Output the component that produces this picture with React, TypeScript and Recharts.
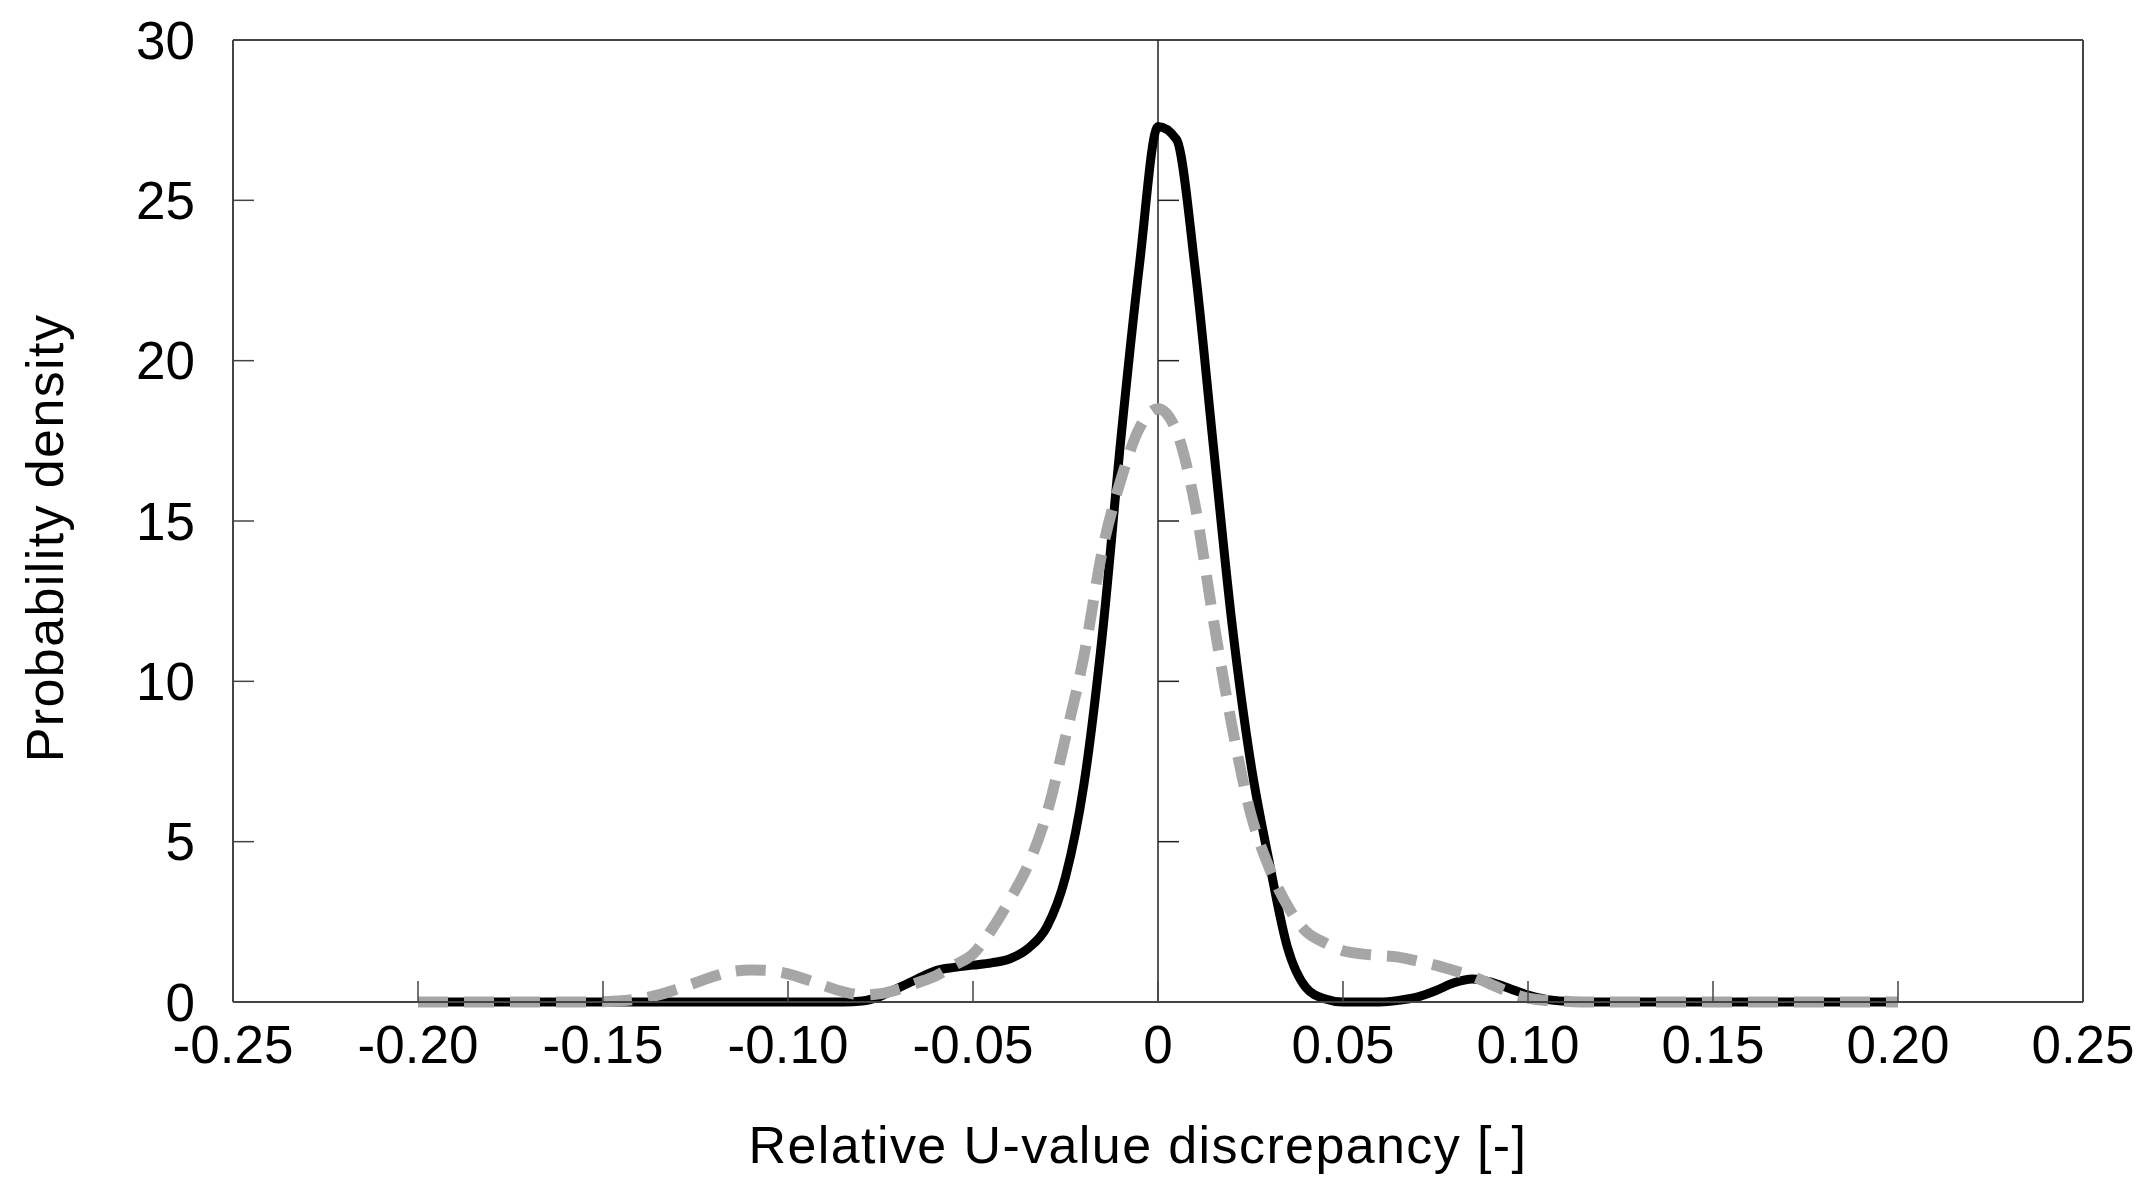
import React from 'react';
import { LineChart, Line, XAxis, YAxis, ReferenceLine } from 'recharts';

const xValues = [
  -0.2, -0.195, -0.19, -0.185, -0.18, -0.175, -0.17, -0.165, -0.16, -0.155,
  -0.15, -0.145, -0.14, -0.135, -0.13, -0.125, -0.12, -0.115, -0.11, -0.105,
  -0.1, -0.095, -0.09, -0.085, -0.08, -0.075, -0.07, -0.065, -0.06, -0.055,
  -0.05, -0.045, -0.04, -0.035, -0.03, -0.025, -0.02, -0.015, -0.01, -0.005,
  0, 0.005, 0.01, 0.015, 0.02, 0.025, 0.03, 0.035, 0.04, 0.045,
  0.05, 0.055, 0.06, 0.065, 0.07, 0.075, 0.08, 0.085, 0.09, 0.095,
  0.1, 0.105, 0.11, 0.115, 0.12, 0.125, 0.13, 0.135, 0.14, 0.145,
  0.15, 0.155, 0.16, 0.165, 0.17, 0.175, 0.18, 0.185, 0.19, 0.195, 0.2,
];

// solid black curve
const solidSeries = [
  0, 0, 0, 0, 0, 0, 0, 0, 0, 0,
  0, 0, 0, 0, 0, 0, 0, 0, 0, 0,
  0, 0, 0, 0, 0.03, 0.18, 0.45, 0.72, 0.98, 1.08,
  1.15, 1.22, 1.35, 1.68, 2.35, 3.9, 6.8, 11.5, 17.6, 23.0,
  27.3, 26.9, 22.9, 17.3, 11.8, 7.5, 4.4, 1.7, 0.45, 0.1,
  0, 0, 0, 0.05, 0.15, 0.35, 0.6, 0.72, 0.62, 0.42,
  0.22, 0.08, 0.02, 0, 0, 0, 0, 0, 0, 0,
  0, 0, 0, 0, 0, 0, 0, 0, 0, 0, 0,
];

// dashed grey curve
const dashedSeries = [
  0, 0, 0, 0, 0, 0, 0, 0, 0, 0,
  0.01, 0.04, 0.1, 0.22, 0.4, 0.6, 0.8, 0.95, 1.0, 0.98,
  0.88, 0.7, 0.5, 0.32, 0.22, 0.26, 0.4, 0.6, 0.82, 1.15,
  1.5, 2.25, 3.2, 4.3, 5.9, 8.25, 10.8, 14.1, 16.3, 17.9,
  18.5, 17.8, 15.5, 11.9, 8.6, 5.9, 4.2, 3.0, 2.2, 1.85,
  1.6, 1.5, 1.45, 1.4, 1.28, 1.15, 0.98, 0.8, 0.55, 0.3,
  0.12, 0.05, 0.02, 0, 0, 0, 0, 0, 0, 0,
  0, 0, 0, 0, 0, 0, 0, 0, 0, 0, 0,
];

const xTicks = [-0.25, -0.2, -0.15, -0.1, -0.05, 0, 0.05, 0.1, 0.15, 0.2, 0.25];
const yTicks = [0, 5, 10, 15, 20, 25, 30];
const xDomain: [number, number] = [-0.25, 0.25];
const yDomain: [number, number] = [0, 30];

const xTitle = 'Relative U-value discrepancy [-]';
const yTitle = 'Probability density';

const data = xValues.map((x, i) => ({ x, solid: solidSeries[i], dashed: dashedSeries[i] }));

const FONT = '"Liberation Sans", Arial, sans-serif';
const AXIS_COLOR = '#444444';

const formatX = (v: number) => (v === 0 ? '0' : v.toFixed(2));

// vertical line at x = 0 with inward tick marks
const ZeroAxisShape = (props: any) => {
  const { x1, y1, y2 } = props;
  const top = Math.min(y1, y2);
  const bottom = Math.max(y1, y2);
  const span = bottom - top;
  return (
    <g>
      <line x1={x1} y1={top} x2={x1} y2={bottom} stroke="#222" strokeWidth={1.5} />
      {yTicks
        .filter((t) => t > yDomain[0] && t < yDomain[1])
        .map((t) => {
          const y = bottom - ((t - yDomain[0]) / (yDomain[1] - yDomain[0])) * span;
          return <line key={t} x1={x1} y1={y} x2={x1 + 21} y2={y} stroke="#222" strokeWidth={1.5} />;
        })}
    </g>
  );
};

export default function App() {
  return (
    <div style={{ position: 'absolute', left: 0, top: 0, width: 2154, height: 1200, background: '#fff' }}>
      <LineChart
        width={2154}
        height={1200}
        data={data}
        margin={{ top: 40, right: 71, bottom: 0, left: 0 }}
      >
        <XAxis
          dataKey="x"
          type="number"
          domain={xDomain}
          ticks={xTicks}
          interval={0}
          tickFormatter={formatX}
          height={198}
          tickSize={-21}
          tickMargin={44}
          axisLine={{ stroke: AXIS_COLOR, strokeWidth: 2 }}
          tickLine={{ stroke: AXIS_COLOR, strokeWidth: 1.5 }}
          tick={{ fill: '#000', fontSize: 53, fontFamily: FONT }}
          label={{
            content: () => (
              <text
                x={1138}
                y={1163}
                textAnchor="middle"
                fill="#000"
                fontSize={52}
                letterSpacing={1.4}
                fontFamily={FONT}
              >
                {xTitle}
              </text>
            ),
          }}
        />
        <YAxis
          type="number"
          domain={yDomain}
          ticks={yTicks}
          interval={0}
          width={233}
          tickSize={-21}
          tickMargin={59}
          axisLine={{ stroke: AXIS_COLOR, strokeWidth: 2 }}
          tickLine={{ stroke: AXIS_COLOR, strokeWidth: 1.5 }}
          tick={{ fill: '#000', fontSize: 53, fontFamily: FONT }}
          label={{
            content: () => (
              <text
                x={63}
                y={538}
                transform="rotate(-90 63 538)"
                textAnchor="middle"
                fill="#000"
                fontSize={52}
                letterSpacing={1.4}
                fontFamily={FONT}
              >
                {yTitle}
              </text>
            ),
          }}
        />
        <ReferenceLine y={30} stroke={AXIS_COLOR} strokeWidth={2} />
        <ReferenceLine x={0.25} stroke={AXIS_COLOR} strokeWidth={2} />
        <ReferenceLine x={0} shape={ZeroAxisShape} />
        <Line
          type="monotone"
          dataKey="solid"
          stroke="#000"
          strokeWidth={9}
          strokeLinejoin="round"
          dot={false}
          activeDot={false}
          isAnimationActive={false}
        />
        <Line
          type="monotone"
          dataKey="dashed"
          stroke="#a6a6a6"
          strokeWidth={11}
          strokeDasharray="30 16"
          dot={false}
          activeDot={false}
          isAnimationActive={false}
        />
      </LineChart>
    </div>
  );
}
